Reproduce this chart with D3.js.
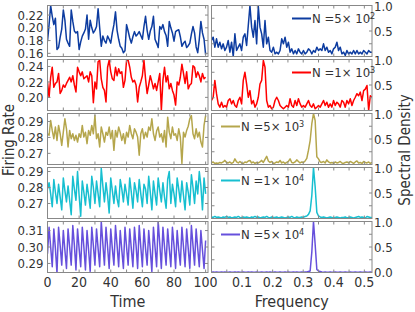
<!DOCTYPE html>
<html>
<head>
<meta charset="utf-8">
<script src="https://cdn.jsdelivr.net/npm/d3@7"></script>
<style>
  body { margin: 0; background: #fff; }
  text { font-family: "Liberation Sans Narrow", "DejaVu Sans Condensed", sans-serif; fill: #333; }
</style>
</head>
<body>
<div id="chart-area"></div>
<script>
const WIDTH = 415
const HEIGHT = 312
const PANEL_TOPS = [5, 59, 113, 167, 221]
const PANEL_H = 51
const LEFT = { X0: 47.5, X1: 208 }
const RIGHT = { X0: 211.5, X1: 372 }

// firing rate, one sample per time unit (t = 0..100)
const rateN500 = [.179,.205,.235,.218,.205,.215,.166,.169,.185,.198,
  .228,.212,.182,.176,.171,.228,.210,.195,.192,.194,
  .166,.178,.187,.192,.198,.220,.182,.212,.200,.192,
  .196,.202,.230,.200,.171,.187,.180,.176,.187,.182,
  .176,.192,.205,.225,.196,.182,.171,.168,.161,.164,
  .205,.195,.184,.176,.186,.194,.187,.190,.194,.188,
  .182,.202,.218,.196,.182,.195,.202,.218,.182,.176,
  .169,.202,.198,.205,.194,.188,.171,.210,.200,.192,
  .179,.194,.196,.197,.186,.171,.176,.179,.169,.172,
  .176,.190,.202,.192,.170,.161,.182,.210,.192,.182,
  .158]
const rateN1000 = [.220,.200,.226,.239,.213,.218,.220,.231,.205,.209,
  .216,.213,.218,.222,.226,.220,.228,.216,.207,.239,
  .233,.228,.233,.224,.226,.228,.220,.233,.228,.193,
  .220,.211,.246,.248,.224,.213,.209,.194,.239,.248,
  .233,.224,.222,.239,.228,.237,.231,.233,.213,.222,
  .248,.248,.239,.226,.220,.222,.216,.194,.213,.220,
  .228,.248,.224,.205,.216,.228,.220,.211,.218,.209,
  .220,.231,.183,.222,.239,.220,.228,.211,.218,.209,
  .203,.190,.220,.216,.226,.243,.231,.218,.233,.211,
  .216,.218,.241,.239,.226,.233,.228,.220,.231,.224,
  .226]
const rateN5000 = [.2823,.2813,.2906,.2844,.2792,.2865,.2781,.2875,.2823,.2750,
  .2833,.2917,.2854,.2740,.2844,.2792,.2823,.2781,.2813,.2771,
  .2823,.2800,.2875,.2802,.2833,.2761,.2844,.2813,.2875,.2823,
  .2937,.2792,.2823,.2740,.2865,.2823,.2771,.2833,.2813,.2865,
  .2792,.2844,.2719,.2844,.2802,.2865,.2830,.2781,.2823,.2761,
  .2833,.2802,.2875,.2823,.2792,.2854,.2833,.2802,.2688,.2823,
  .2854,.2792,.2833,.2802,.2865,.2844,.2917,.2823,.2781,.2840,
  .2865,.2802,.2823,.2771,.2844,.2740,.2927,.2833,.2792,.2865,
  .2813,.2823,.2781,.2854,.2802,.2636,.2833,.2802,.2844,.2870,
  .2917,.2937,.2823,.2792,.2854,.2802,.2833,.2771,.2740,.2875,
  .2937]
const rateN10000 = [.279,.283,.276,.268,.285,.277,.270,.282,.274,.266,
  .286,.278,.271,.281,.272,.263,.287,.279,.272,.290,
  .275,.262,.284,.277,.269,.282,.275,.267,.287,.280,
  .270,.284,.276,.268,.292,.281,.271,.283,.275,.264,
  .286,.278,.270,.281,.273,.268,.285,.279,.271,.282,
  .276,.269,.286,.277,.267,.283,.278,.271,.285,.276,
  .268,.282,.279,.270,.287,.277,.266,.284,.276,.269,
  .286,.278,.271,.283,.274,.267,.285,.290,.270,.282,
  .276,.268,.286,.279,.271,.284,.275,.266,.283,.277,
  .269,.288,.280,.270,.284,.276,.290,.281,.266,.286,
  .276]
const rateN50000 = [.296,.312,.300,.288,.311,.299,.284,.312,.301,.289,
  .310,.298,.287,.311,.300,.289,.313,.301,.286,.311,
  .299,.288,.312,.300,.286,.310,.298,.285,.312,.301,
  .289,.311,.299,.288,.3155,.302,.289,.312,.300,.287,
  .311,.299,.289,.313,.301,.288,.310,.298,.287,.312,
  .300,.289,.311,.299,.288,.312,.301,.287,.313,.300,
  .288,.311,.299,.289,.310,.298,.285,.312,.300,.288,
  .3155,.302,.287,.312,.300,.289,.311,.299,.288,.312,
  .301,.287,.310,.298,.289,.312,.300,.288,.311,.299,
  .287,.313,.301,.289,.311,.299,.288,.310,.298,.287,
  .304]

// normalised spectral density, frequency 0 .. 0.525
const specN500 = [.314,.379,.183,.346,.183,.281,.150,.248,.118,.183,
  .314,.085,.281,.000,.444,.118,.183,.248,.118,.379,
  .444,.216,.608,1.00,.575,.379,.706,.248,.980,.575,
  .444,.183,.706,.248,.379,.118,.085,.183,.052,.085,
  .052,.118,.346,.248,.379,.183,.281,.085,.150,.052,
  .118,.052,.150,.085,.052,.118,.052,.085,.150,.118,
  .052,.118,.085,.183,.118,.150,.118,.248,.118,.183,
  .085,.118,.052,.150,.183,.281,.118,.183,.052,.085,
  .020,.118,.052,.085,.052,.118,.052,.118,.052,.085,
  .052,.118,.085,.052,.118,.085,.085]
const specN1000 = [.196,.260,.590,.330,.130,.065,.163,.065,.098,.065,
  .196,.230,.130,.196,.098,.065,.196,.260,.130,.590,
  .750,.520,.260,.390,.130,.196,.065,.130,.260,.520,
  .590,.980,.850,.196,.065,.098,.033,.065,.196,.260,
  .196,.098,.065,.033,.065,.098,.065,.230,.098,.065,
  .196,.098,.230,.130,.065,.098,.065,.130,.196,.098,
  .065,.130,.033,.065,.098,.065,.130,.196,.098,.163,
  .065,.130,.065,.196,.098,.163,.130,.065,.196,.163,
  .065,.196,.130,.230,.098,.196,.260,.330,.290,.360,
  .196,.390,.420,.490,.000,.290,.260]
const specN5000 = [.03,.05,.02,.03,.02,.04,.03,.05,.08,.04,
  .03,.05,.02,.04,.11,.05,.03,.06,.03,.02,
  .05,.04,.07,.08,.03,.05,.02,.04,.03,.05,
  .08,.04,.10,.16,.07,.04,.06,.02,.03,.05,
  .04,.08,.03,.05,.02,.04,.06,.11,.04,.03,
  .05,.09,.06,.03,.05,.04,.07,.12,.28,.47,
  .80,1.00,.86,.15,.11,.05,.04,.06,.03,.09,
  .05,.03,.04,.02,.05,.03,.04,.06,.03,.02,
  .04,.05,.03,.06,.04,.02,.05,.07,.03,.04,
  .02,.06,.04,.03,.05,.02,.04]
const specN10000 = [.03,.02,.04,.02,.03,.02,.01,.03,.02,.04,
  .02,.03,.01,.02,.03,.02,.04,.02,.01,.03,
  .02,.03,.02,.01,.03,.02,.04,.02,.03,.01,
  .02,.03,.02,.04,.02,.01,.03,.02,.02,.03,
  .01,.02,.03,.02,.01,.02,.03,.02,.04,.02,
  .01,.03,.02,.02,.03,.02,.04,.05,.08,.15,
  .45,1.00,.62,.12,.05,.03,.02,.03,.02,.01,
  .02,.03,.02,.01,.02,.03,.02,.01,.02,.02,
  .03,.01,.02,.03,.02,.01,.02,.03,.04,.02,
  .03,.02,.01,.04,.03,.02,.02]
const specN50000 = [.005,.010,.005,.010,.005,.005,.010,.005,.010,.005,
  .005,.010,.005,.005,.010,.005,.010,.005,.005,.010,
  .005,.005,.010,.005,.010,.005,.005,.010,.005,.005,
  .010,.005,.005,.010,.005,.010,.005,.005,.010,.005,
  .005,.010,.005,.005,.010,.005,.010,.005,.005,.010,
  .005,.010,.005,.005,.010,.005,.010,.010,.020,.030,
  .400,1.00,.550,.060,.030,.020,.010,.005,.010,.005,
  .005,.010,.005,.005,.010,.005,.005,.010,.005,.005,
  .010,.005,.005,.010,.005,.005,.010,.005,.005,.010,
  .005,.005,.010,.005,.005,.010,.005]

const rates = [rateN500, rateN1000, rateN5000, rateN10000, rateN50000]
const spectra = [specN500, specN1000, specN5000, specN10000, specN50000]
const colors = ["#0d3ca0", "#ff0000", "#b5a64c", "#17bfd0", "#6650dc"]
const legendMantissa = ["5", "1", "5", "1", "5"]
const legendExponent = ["2", "3", "3", "4", "4"]

const rateDomains = [[0.155, 0.235], [0.183, 0.249], [0.263, 0.295], [0.2606, 0.2925], [0.2845, 0.3155]]
const rateTicks = [[0.16, 0.18, 0.20, 0.22], [0.20, 0.22, 0.24], [0.27, 0.28, 0.29], [0.27, 0.28, 0.29], [0.29, 0.30, 0.31]]
const timeTicks = [0, 20, 40, 60, 80, 100]
const freqTicks = [0.1, 0.2, 0.3, 0.4, 0.5]

const svg = d3.select("#chart-area").append("svg")
  .attr("width", WIDTH)
  .attr("height", HEIGHT)

const xTime = d3.scaleLinear().domain([0, 101.5]).range([LEFT.X0, LEFT.X1])
const xFreq = d3.scaleLinear().domain([0, 0.525]).range([RIGHT.X0, RIGHT.X1])

const defs = svg.append("defs")

function innerTicks(g, xs, ys, x0, x1, y0, y1) {
  const tick = "#888"
  xs.forEach(v => {
    g.append("line").attr("x1", v).attr("x2", v).attr("y1", y1).attr("y2", y1 - 3).attr("stroke", tick)
    g.append("line").attr("x1", v).attr("x2", v).attr("y1", y0).attr("y2", y0 + 3).attr("stroke", tick)
  })
  ys.forEach(v => {
    g.append("line").attr("x1", x0).attr("x2", x0 + 3).attr("y1", v).attr("y2", v).attr("stroke", tick)
    g.append("line").attr("x1", x1).attr("x2", x1 - 3).attr("y1", v).attr("y2", v).attr("stroke", tick)
  })
}

rates.forEach((rate, i) => {
  const top = PANEL_TOPS[i] + 0.5
  const bottom = top + PANEL_H
  const yRate = d3.scaleLinear().domain(rateDomains[i]).range([bottom, top])
  const ySpec = d3.scaleLinear().domain([0, 1]).range([bottom, top])

  // clip areas
  defs.append("clipPath").attr("id", `clip-l${i}`).append("rect")
    .attr("x", LEFT.X0).attr("y", top).attr("width", LEFT.X1 - LEFT.X0).attr("height", PANEL_H)
  defs.append("clipPath").attr("id", `clip-r${i}`).append("rect")
    .attr("x", RIGHT.X0).attr("y", top).attr("width", RIGHT.X1 - RIGHT.X0).attr("height", PANEL_H)

  // time series
  const left = svg.append("g")
  left.append("path")
    .datum(rate)
    .attr("clip-path", `url(#clip-l${i})`)
    .attr("fill", "none")
    .attr("stroke", colors[i])
    .attr("stroke-width", 1.5)
    .attr("stroke-linejoin", "round")
    .attr("d", d3.line().x((d, t) => xTime(t)).y(d => yRate(d)))

  innerTicks(left, d3.range(0, 101, 10).map(xTime), rateTicks[i].map(yRate), LEFT.X0, LEFT.X1, top, bottom)

  left.append("rect")
    .attr("x", LEFT.X0).attr("y", top)
    .attr("width", LEFT.X1 - LEFT.X0).attr("height", PANEL_H)
    .attr("fill", "none").attr("stroke", "#888")

  left.selectAll(".y-label")
    .data(rateTicks[i])
    .enter().append("text")
    .attr("x", LEFT.X0 - 4)
    .attr("y", d => yRate(d))
    .attr("dy", "0.36em")
    .attr("text-anchor", "end")
    .attr("font-size", "13px")
    .text(d => d3.format(".2f")(d))

  // spectrum
  const freq = d3.range(spectra[i].length).map(k => k * 0.525 / (spectra[i].length - 1))
  const right = svg.append("g")
  right.append("path")
    .datum(spectra[i])
    .attr("clip-path", `url(#clip-r${i})`)
    .attr("fill", "none")
    .attr("stroke", colors[i])
    .attr("stroke-width", 1.5)
    .attr("stroke-linejoin", "round")
    .attr("d", d3.line().x((d, k) => xFreq(freq[k])).y(d => ySpec(d)))

  innerTicks(right, d3.range(0.05, 0.52, 0.05).map(xFreq), [0.25, 0.5, 0.75].map(ySpec), RIGHT.X0, RIGHT.X1, top, bottom)

  right.append("rect")
    .attr("x", RIGHT.X0).attr("y", top)
    .attr("width", RIGHT.X1 - RIGHT.X0).attr("height", PANEL_H)
    .attr("fill", "none").attr("stroke", "#888")

  const specLabels = i === rates.length - 1 ? [0, 0.5, 1] : [0.5, 1]
  right.selectAll(".r-label")
    .data(specLabels)
    .enter().append("text")
    .attr("x", RIGHT.X1 + 2)
    .attr("y", d => ySpec(d) + (d === 1 ? 1 : 0))
    .attr("dy", "0.36em")
    .attr("font-size", "13px")
    .text(d => d3.format(".1f")(d))

  // legend
  const lx = i < 2 ? 292 : 221
  const ly = top + 13
  right.append("line")
    .attr("x1", lx).attr("x2", lx + 19)
    .attr("y1", ly).attr("y2", ly)
    .attr("stroke", colors[i]).attr("stroke-width", 2)
  const label = right.append("text")
    .attr("x", lx + 20)
    .attr("y", ly)
    .attr("dy", "0.36em")
    .attr("font-size", "13px")
    .text(`N =${legendMantissa[i]}\u00d7 10`)
  label.append("tspan")
    .attr("dy", "-0.45em")
    .attr("font-size", "9px")
    .text(legendExponent[i])
})

// bottom tick labels
const lastBottom = PANEL_TOPS[4] + PANEL_H
svg.selectAll(".x-time")
  .data(timeTicks)
  .enter().append("text")
  .attr("x", d => xTime(d))
  .attr("y", lastBottom + 15)
  .attr("text-anchor", "middle")
  .attr("font-size", "14px")
  .text(d => d)

svg.selectAll(".x-freq")
  .data(freqTicks)
  .enter().append("text")
  .attr("x", d => xFreq(d))
  .attr("y", lastBottom + 15)
  .attr("text-anchor", "middle")
  .attr("font-size", "14px")
  .text(d => d.toFixed(1))

// axis titles
svg.append("text")
  .attr("x", (LEFT.X0 + LEFT.X1) / 2)
  .attr("y", 307)
  .attr("text-anchor", "middle")
  .attr("font-size", "16px")
  .text("Time")

svg.append("text")
  .attr("x", (RIGHT.X0 + RIGHT.X1) / 2)
  .attr("y", 307)
  .attr("text-anchor", "middle")
  .attr("font-size", "16px")
  .text("Frequency")

svg.append("text")
  .attr("transform", "translate(14, 140) rotate(-90)")
  .attr("text-anchor", "middle")
  .attr("font-size", "15px")
  .text("Firing Rate")

svg.append("text")
  .attr("transform", "translate(410, 150) rotate(-90)")
  .attr("text-anchor", "middle")
  .attr("font-size", "15px")
  .text("Spectral Density")
</script>
</body>
</html>
